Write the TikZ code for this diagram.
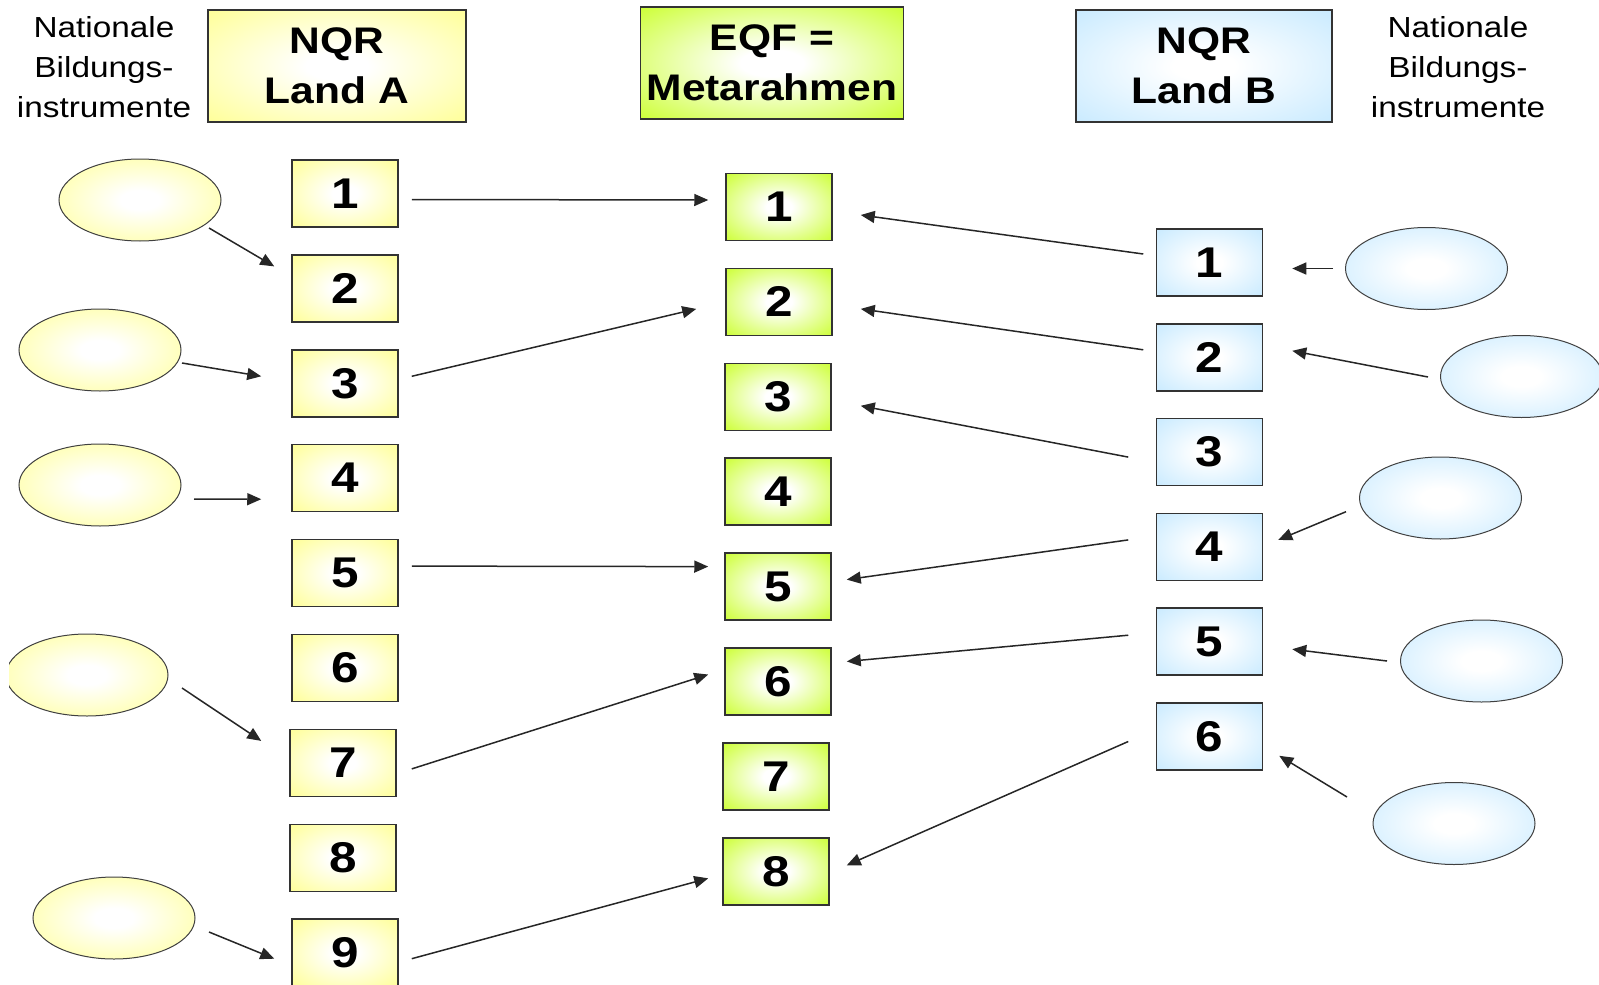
\documentclass[tikz,border=0pt]{standalone}
\usepackage{fontspec}
\setmainfont[FakeStretch=1.15]{Liberation Sans}
\usepackage{tikz}
\usetikzlibrary{arrows.meta,calc,shapes.geometric}

\definecolor{nqrAfill}{RGB}{255,255,150}
\definecolor{eqffill}{RGB}{204,255,51}
\definecolor{nqrBfill}{RGB}{200,234,255}
\pgfdeclareradialshading{glowA}{\pgfpoint{0bp}{0bp}}{color(0bp)=(white); color(6bp)=(white); color(36bp)=(nqrAfill); color(50bp)=(nqrAfill)}
\pgfdeclareradialshading{glowG}{\pgfpoint{0bp}{0bp}}{color(0bp)=(white); color(6bp)=(white); color(36bp)=(eqffill); color(50bp)=(eqffill)}
\pgfdeclareradialshading{glowB}{\pgfpoint{0bp}{0bp}}{color(0bp)=(white); color(6bp)=(white); color(36bp)=(nqrBfill); color(50bp)=(nqrBfill)}

\begin{document}
\begin{tikzpicture}[
    x=1pt, y=-1pt,
    head/.style={rectangle, draw=black!80, line width=1.5pt, minimum height=112pt, inner sep=0pt, align=center, font=\fontsize{37}{50}\selectfont\bfseries},
    level/.style={rectangle, draw=black!80, line width=1.5pt, minimum width=106pt, minimum height=67pt, inner sep=0pt, font=\fontsize{43}{50}\selectfont\bfseries},
    instr/.style={ellipse, draw=black!75, line width=1pt, minimum width=162pt, minimum height=82pt, inner sep=0pt},
    side/.style={align=center, inner sep=0pt, font=\fontsize{29}{40}\selectfont},
    arrow/.style={-{Triangle[length=14pt,width=12pt]}, line width=1.5pt, draw=black!85}
]
    \useasboundingbox (0,0) rectangle (1599,985);

    % Headings
    \node[side] (txtA) at (104, 67) {Nationale\\Bildungs-\\instrumente};
    \node[head, minimum width=258pt, shade, shading=glowA] (nqrA) at (337, 66) {NQR\\Land A};
    \node[head, minimum width=263pt, shade, shading=glowG] (eqf) at (772, 63) {EQF =\\Metarahmen};
    \node[head, minimum width=256pt, shade, shading=glowB] (nqrB) at (1204, 66) {NQR\\Land B};
    \node[side] (txtB) at (1458, 67) {Nationale\\Bildungs-\\instrumente};

    % Levels NQR A
    \foreach \i/\x in {1/345,2/345,3/345,4/345,5/345,6/345,7/343,8/343,9/345}
        \node[level, shade, shading=glowA] (a\i) at (\x, {193.5+(\i-1)*94.9}) {\i};

    % Levels EQF
    \foreach \i/\x in {1/779,2/779,3/778,4/778,5/778,6/778,7/776,8/776}
        \node[level, shade, shading=glowG] (g\i) at (\x, {207+(\i-1)*94.9}) {\i};

    % Levels NQR B
    \foreach \i in {1,...,6}
        \node[level, shade, shading=glowB] (b\i) at (1209.5, {262.5+(\i-1)*94.8}) {\i};

    % Instruments land A
    \node[instr, shade, shading=glowA] (ia1) at (140, 200) {};
    \node[instr, shade, shading=glowA] (ia2) at (100, 350) {};
    \node[instr, shade, shading=glowA] (ia3) at (100, 485) {};
    \begin{scope}
        \clip (9,0) rectangle (1599,985);
        \node[instr, shade, shading=glowA] (ia4) at (87, 675) {};
    \end{scope}
    \node[instr, shade, shading=glowA] (ia5) at (114, 918) {};

    % Instruments land B
    \node[instr, shade, shading=glowB] (ib1) at (1426.5, 268.5) {};
    \node[instr, shade, shading=glowB] (ib2) at (1521.5, 376.5) {};
    \node[instr, shade, shading=glowB] (ib3) at (1440.5, 498) {};
    \node[instr, shade, shading=glowB] (ib4) at (1481.5, 661) {};
    \node[instr, shade, shading=glowB] (ib5) at (1454, 823.5) {};

    % Instruments -> NQR A
    \draw[arrow] ($(ia1)+(69,28)$) -- ($(a2.west)+(-17,-22)$);
    \draw[arrow] ($(ia2)+(82,13)$) -- ($(a3.west)+(-30,-7)$);
    \draw[arrow] ($(ia3)+(94,14)$) -- ($(a4.west)+(-30,21)$);
    \draw[arrow] ($(ia4)+(95,13)$) -- ($(a7.west)+(-28,-22)$);
    \draw[arrow] ($(ia5)+(95,14)$) -- ($(a9.west)+(-17,6)$);

    % NQR A -> EQF
    \draw[arrow] ($(a1.east)+(13,6)$) -- ($(g1.west)+(-17,-7)$);
    \draw[arrow] ($(a3.east)+(13,-7)$) -- ($(g2.west)+(-29,7)$);
    \draw[arrow] ($(a5.east)+(13,-7)$) -- ($(g5.west)+(-16,-20)$);
    \draw[arrow] ($(a7.east)+(15,6)$) -- ($(g6.west)+(-16,-7)$);
    \draw[arrow] ($(a9.east)+(13,6)$) -- ($(g8.west)+(-14,7)$);

    % NQR B -> EQF
    \draw[arrow] ($(b1.west)+(-12.5,-8.5)$) -- ($(g1.east)+(28,8)$);
    \draw[arrow] ($(b2.west)+(-12.5,-7.5)$) -- ($(g2.east)+(28,7)$);
    \draw[arrow] ($(b3.west)+(-27.5,5)$) -- ($(g3.east)+(29,9)$);
    \draw[arrow] ($(b4.west)+(-27.5,-7)$) -- ($(g5.east)+(15,-7)$);
    \draw[arrow] ($(b5.west)+(-27.5,-6.5)$) -- ($(g6.east)+(15,-20)$);
    \draw[arrow] ($(b6.west)+(-27.5,5)$) -- ($(g8.east)+(17,-6)$);

    % Instruments -> NQR B
    \draw[arrow] ($(ib1)+(-93.5,0)$) -- ($(b1.east)+(29,6)$);
    \draw[arrow] ($(ib2)+(-93.5,0.5)$) -- ($(b2.east)+(29,-6.5)$);
    \draw[arrow] ($(ib3)+(-94.5,13.7)$) -- ($(b4.east)+(15,-7)$);
    \draw[arrow] ($(ib4)+(-94.5,0)$) -- ($(b5.east)+(29,7.5)$);
    \draw[arrow] ($(ib5)+(-107,-26.5)$) -- ($(b6.east)+(16,19.3)$);

\end{tikzpicture}
\end{document}
